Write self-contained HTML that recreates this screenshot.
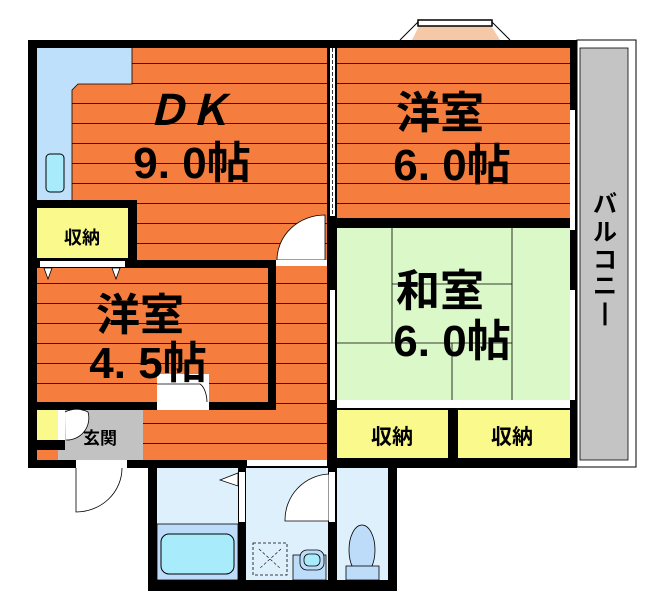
<!DOCTYPE html>
<html><head><meta charset="utf-8"><style>
html,body{margin:0;padding:0;background:#fff;}
svg{display:block}
text{font-family:"Liberation Sans","Noto Sans CJK JP",sans-serif;font-weight:bold;fill:#000}
</style></head><body>
<svg width="649" height="600" viewBox="0 0 649 600" xmlns="http://www.w3.org/2000/svg">
<defs>
<pattern id="fl" x="0" y="4" width="10" height="20" patternUnits="userSpaceOnUse">
<rect width="10" height="20" fill="#f57e3e"/><rect y="19" width="10" height="1.2" fill="#3a1a0a"/>
</pattern>
</defs>
<rect x="577" y="40" width="59" height="427" fill="#fff" stroke="#000" stroke-width="1"/>
<rect x="580" y="48" width="48" height="412" fill="#c4c4c4" stroke="#000" stroke-width="0.8"/>
<polygon points="412,40 420,24 490,24 500,40" fill="#f5c9a8"/>
<polyline points="400,40 418,22 492,22 510,40" fill="none" stroke="#000" stroke-width="1"/>
<rect x="418" y="20" width="74" height="6" fill="#fff" stroke="#000" stroke-width="1.5"/>
<rect x="28" y="40" width="549" height="428" fill="#000"/>
<rect x="37" y="48" width="290" height="212" fill="url(#fl)"/>
<path d="M37,48 H132 V84 H78 L72,90 V200 H37 Z" fill="#bfe0fb"/>
<path d="M132,48 V84 H78 L72,90 V200" fill="none" stroke="#000" stroke-width="0.8"/>
<rect x="46" y="154" width="18" height="38" rx="4" fill="#a8ecfb" stroke="#000" stroke-width="1"/>
<rect x="30" y="200" width="107" height="68" fill="#000"/>
<rect x="37" y="208" width="91" height="50" fill="#fafa8c"/>
<text x="82" y="244" font-size="18" text-anchor="middle">収納</text>
<rect x="37" y="268" width="231" height="134" fill="url(#fl)"/>
<rect x="40" y="261" width="85" height="6" fill="#fff"/>
<polygon points="44,268 52,268 48,279" fill="#fff" stroke="#000" stroke-width="0.8"/>
<polygon points="112,268 120,268 116,279" fill="#fff" stroke="#000" stroke-width="0.8"/>
<rect x="157" y="374" width="52" height="36" fill="#fff"/>
<path d="M157,384 H200 A10,20 0 0 1 207,402" fill="none" stroke="#000" stroke-width="0.8"/>
<rect x="276" y="262" width="51" height="198" fill="url(#fl)"/>
<rect x="276" y="217" width="51" height="45" fill="url(#fl)"/>
<path d="M277,260 A48,45 0 0 1 325,215 V260 Z" fill="#fff" stroke="#000" stroke-width="0.8"/>
<rect x="276" y="260" width="51" height="6" fill="#fff"/>
<rect x="37" y="410" width="290" height="50" fill="url(#fl)"/>
<rect x="58" y="410" width="85" height="50" fill="#c2c2c2"/>
<rect x="37" y="410" width="21" height="30" fill="#fafa8c"/>
<rect x="37" y="440" width="28" height="10" fill="#000"/>
<rect x="58" y="410" width="7" height="30" fill="#fff"/>
<path d="M65,412 A25,25 0 0 1 88,412 A22,22 0 0 1 66,440" fill="#fff" stroke="#000" stroke-width="0.8"/>
<text x="100" y="444" font-size="17" text-anchor="middle">玄関</text>
<rect x="337" y="48" width="233" height="170" fill="url(#fl)"/>
<rect x="330" y="48" width="5" height="168" fill="#fff"/>
<line x1="332.5" y1="48" x2="332.5" y2="216" stroke="#000" stroke-dasharray="4,2" stroke-width="0.8"/>
<rect x="570" y="110" width="5" height="120" fill="#fff"/>
<rect x="337" y="228" width="233" height="172" fill="#dbf8c9"/>
<g stroke="#000" stroke-width="0.8" fill="none">
<line x1="392" y1="228" x2="392" y2="343"/>
<line x1="512" y1="228" x2="512" y2="400"/>
<line x1="392" y1="284" x2="512" y2="284"/>
<line x1="337" y1="343" x2="512" y2="343"/>
<line x1="452" y1="343" x2="452" y2="400"/>
</g>
<rect x="330" y="290" width="5" height="110" fill="#fff"/>
<rect x="570" y="290" width="5" height="110" fill="#fff"/>
<rect x="337" y="400" width="233" height="8" fill="#fff"/>
<rect x="337" y="410" width="111" height="48" fill="#fafa8c"/>
<rect x="458" y="410" width="112" height="48" fill="#fafa8c"/>
<text x="392" y="444" font-size="21" text-anchor="middle">収納</text>
<text x="512" y="444" font-size="21" text-anchor="middle">収納</text>
<rect x="76" y="460" width="51" height="8" fill="#fff"/>
<path d="M76,468 V512 A46,44 0 0 0 122,468" fill="#fff" stroke="#000" stroke-width="0.8"/>
<rect x="148" y="460" width="249" height="131" fill="#000"/>
<rect x="157" y="468" width="81" height="112" fill="#dff0fd"/>
<rect x="157" y="524" width="81" height="56" fill="#bcdcf9" stroke="#000" stroke-width="0.8"/>
<rect x="161" y="534" width="73" height="40" rx="8" fill="#a8ecfb" stroke="#000" stroke-width="1"/>
<rect x="246" y="468" width="82" height="112" fill="#dff0fd"/>
<rect x="337" y="468" width="51" height="112" fill="#dff0fd"/>
<rect x="239" y="472" width="6" height="50" fill="#fff"/>
<polygon points="220,480 238,473 238,486" fill="#fff" stroke="#000" stroke-width="0.8"/>
<rect x="247" y="460" width="80" height="6" fill="#fff"/>
<path d="M285,521 A46,46 0 0 1 329,474 V521 Z" fill="#fff" stroke="#000" stroke-width="0.8"/>
<rect x="329" y="472" width="6" height="50" fill="#fff"/>
<rect x="253" y="543" width="34" height="32" fill="none" stroke="#000" stroke-width="0.8" stroke-dasharray="3,2"/>
<path d="M259,549 L281,569 M281,549 L259,569" stroke="#000" stroke-width="0.6" stroke-dasharray="3,2"/>
<rect x="293" y="555" width="33" height="25" fill="#bcdcf9" stroke="#000" stroke-width="0.8"/>
<rect x="300" y="550" width="24" height="20" rx="7" fill="#bcdcf9" stroke="#000" stroke-width="0.8"/>
<rect x="304" y="554" width="16" height="12" rx="5" fill="#a8ecfb" stroke="#000" stroke-width="0.8"/>
<ellipse cx="362" cy="550" rx="13" ry="25" fill="#bcdcf9" stroke="#000" stroke-width="0.8"/>
<rect x="346" y="566" width="33" height="14" fill="#bcdcf9" stroke="#000" stroke-width="0.8"/>
<text x="188" y="125" font-size="42" text-anchor="middle" font-style="italic">ＤＫ</text>
<text x="192" y="178" font-size="44" text-anchor="middle">9. 0帖</text>
<text x="440" y="128" font-size="44" text-anchor="middle">洋室</text>
<text x="452" y="180" font-size="44" text-anchor="middle">6. 0帖</text>
<text x="440" y="306" font-size="44" text-anchor="middle">和室</text>
<text x="452" y="356" font-size="44" text-anchor="middle">6. 0帖</text>
<text x="140" y="330" font-size="44" text-anchor="middle">洋室</text>
<text x="148" y="378" font-size="44" text-anchor="middle">4. 5帖</text>
<text font-size="24" text-anchor="middle"><tspan x="605" y="212">バ</tspan><tspan x="605" y="240">ル</tspan><tspan x="605" y="268">コ</tspan><tspan x="605" y="294">ニ</tspan><tspan x="605" y="320">|</tspan></text>
</svg>
</body></html>
